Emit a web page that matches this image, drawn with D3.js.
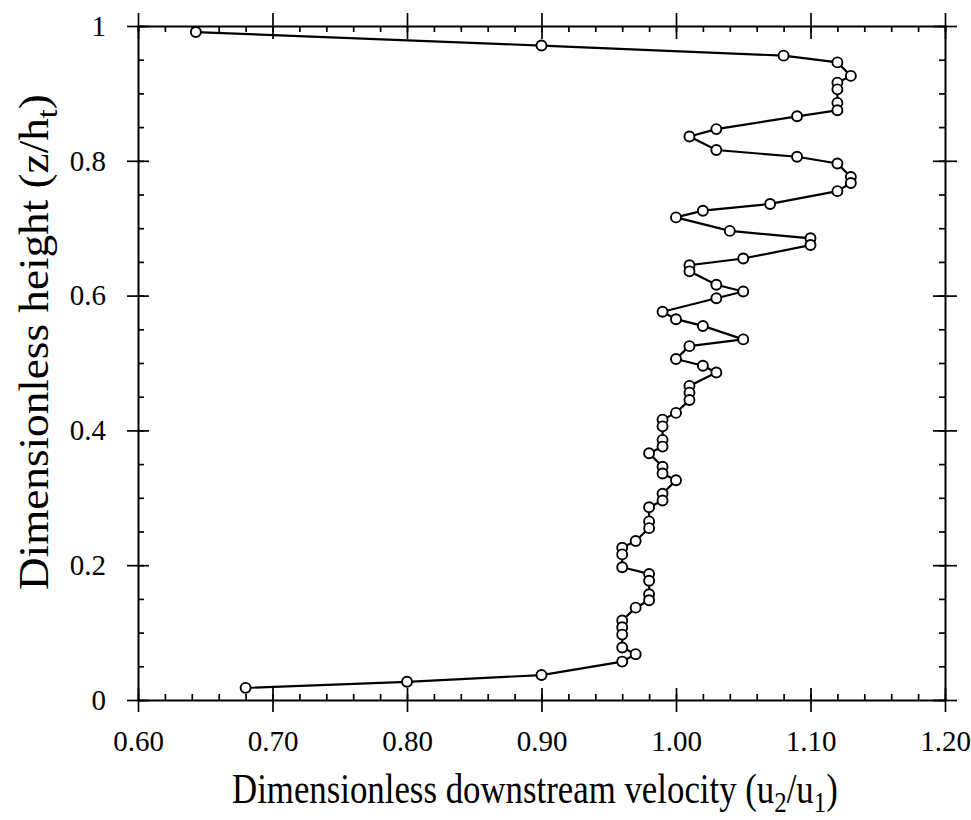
<!DOCTYPE html>
<html>
<head>
<meta charset="utf-8">
<script src="https://cdn.jsdelivr.net/npm/d3@7"></script>
<style>
  body { margin: 0; background: #fff; }
  text { font-family: "Liberation Serif", "DejaVu Serif", serif; fill: #000; }
</style>
</head>
<body>
<script>
// velocity profile, read from the top of the column down
var velocity = [0.643, 0.90, 1.08, 1.12, 1.13, 1.12, 1.12, 1.12, 1.12, 1.09,
  1.03, 1.01, 1.03, 1.09, 1.12, 1.13, 1.13, 1.12, 1.07, 1.02,
  1.00, 1.04, 1.10, 1.10, 1.05, 1.01, 1.01, 1.03, 1.05, 1.03,
  0.99, 1.00, 1.02, 1.05, 1.01, 1.00, 1.02, 1.03, 1.01, 1.01,
  1.01, 1.00, 0.99, 0.99, 0.99, 0.99, 0.98, 0.99, 0.99, 1.00,
  0.99, 0.99, 0.98, 0.98, 0.98, 0.97, 0.96, 0.96, 0.96, 0.98,
  0.98, 0.98, 0.98, 0.97, 0.96, 0.96, 0.96, 0.96, 0.97, 0.96,
  0.90, 0.80, 0.68];

var heightZ = [0.991, 0.971, 0.956, 0.946, 0.926, 0.916, 0.906, 0.886, 0.875, 0.866,
  0.847, 0.836, 0.816, 0.806, 0.796, 0.776, 0.767, 0.755, 0.736, 0.726,
  0.716, 0.696, 0.685, 0.675, 0.655, 0.645, 0.636, 0.616, 0.606, 0.596,
  0.576, 0.565, 0.555, 0.535, 0.525, 0.506, 0.496, 0.486, 0.466, 0.456,
  0.445, 0.426, 0.416, 0.406, 0.386, 0.376, 0.366, 0.346, 0.336, 0.326,
  0.306, 0.296, 0.286, 0.265, 0.255, 0.236, 0.226, 0.216, 0.197, 0.187,
  0.177, 0.157, 0.148, 0.137, 0.118, 0.108, 0.097, 0.078, 0.068, 0.057,
  0.037, 0.027, 0.018];

var xTicks = [0.60, 0.70, 0.80, 0.90, 1.00, 1.10, 1.20];
var xTickLabels = ["0.60", "0.70", "0.80", "0.90", "1.00", "1.10", "1.20"];
var yTicks = [0, 0.2, 0.4, 0.6, 0.8, 1];
var yTickLabels = ["0", "0.2", "0.4", "0.6", "0.8", "1"];
var xMinor = d3.range(0, 31).map(function (i) { return 0.6 + i * 0.02; });
var yMinor = d3.range(0, 21).map(function (i) { return i * 0.05; });

var svgWidth = 971;
var svgHeight = 820;

var svg = d3.select("body")
  .append("svg")
  .attr("width", svgWidth)
  .attr("height", svgHeight);

var x = d3.scaleLinear().domain([0.6, 1.2]).range([138, 945]);
var y = d3.scaleLinear().domain([0, 1]).range([700, 26]);

var points = velocity.map(function (v, i) { return { v: v, z: heightZ[i] }; });

function styleAxis(g, width) {
  g.select(".domain").attr("stroke", "#000").attr("stroke-width", width);
  g.selectAll(".tick line").attr("stroke", "#000").attr("stroke-width", 1.7);
  g.selectAll(".tick text")
    .style("font-family", "'Liberation Serif', serif")
    .style("font-size", "29px")
    .attr("fill", "#000");
}

function noLabel() { return ""; }
function dropDomain(g) { g.select(".domain").remove(); }

// bottom axis: labels + outward major ticks
svg.append("g")
  .attr("transform", "translate(0," + y(0) + ")")
  .call(d3.axisBottom(x).tickValues(xTicks).tickSize(12).tickSizeOuter(0).tickPadding(18)
    .tickFormat(function (d, i) { return xTickLabels[i]; }))
  .call(styleAxis, 2.2);

// bottom axis: inward major + minor ticks
svg.append("g")
  .attr("transform", "translate(0," + y(0) + ")")
  .call(d3.axisTop(x).tickValues(xTicks).tickSize(12).tickFormat(noLabel))
  .call(styleAxis, 0).call(dropDomain);
svg.append("g")
  .attr("transform", "translate(0," + y(0) + ")")
  .call(d3.axisTop(x).tickValues(xMinor).tickSize(6).tickFormat(noLabel))
  .call(styleAxis, 0).call(dropDomain);

// top axis
svg.append("g")
  .attr("transform", "translate(0," + y(1) + ")")
  .call(d3.axisTop(x).tickValues(xTicks).tickSize(13).tickSizeOuter(0).tickFormat(noLabel))
  .call(styleAxis, 2.2);
svg.append("g")
  .attr("transform", "translate(0," + y(1) + ")")
  .call(d3.axisBottom(x).tickValues(xTicks).tickSize(13).tickFormat(noLabel))
  .call(styleAxis, 0).call(dropDomain);
svg.append("g")
  .attr("transform", "translate(0," + y(1) + ")")
  .call(d3.axisBottom(x).tickValues(xMinor).tickSize(6).tickFormat(noLabel))
  .call(styleAxis, 0).call(dropDomain);

// left axis
svg.append("g")
  .attr("transform", "translate(" + x(0.6) + ",0)")
  .call(d3.axisLeft(y).tickValues(yTicks).tickSize(11).tickSizeOuter(0).tickPadding(21)
    .tickFormat(function (d, i) { return yTickLabels[i]; }))
  .call(styleAxis, 2);
svg.append("g")
  .attr("transform", "translate(" + x(0.6) + ",0)")
  .call(d3.axisRight(y).tickValues(yTicks).tickSize(11).tickFormat(noLabel))
  .call(styleAxis, 0).call(dropDomain);
svg.append("g")
  .attr("transform", "translate(" + x(0.6) + ",0)")
  .call(d3.axisRight(y).tickValues(yMinor).tickSize(6).tickFormat(noLabel))
  .call(styleAxis, 0).call(dropDomain);

// right axis
svg.append("g")
  .attr("transform", "translate(" + x(1.2) + ",0)")
  .call(d3.axisRight(y).tickValues(yTicks).tickSize(12).tickSizeOuter(0).tickFormat(noLabel))
  .call(styleAxis, 2);
svg.append("g")
  .attr("transform", "translate(" + x(1.2) + ",0)")
  .call(d3.axisLeft(y).tickValues(yTicks).tickSize(12).tickFormat(noLabel))
  .call(styleAxis, 0).call(dropDomain);
svg.append("g")
  .attr("transform", "translate(" + x(1.2) + ",0)")
  .call(d3.axisLeft(y).tickValues(yMinor).tickSize(6).tickFormat(noLabel))
  .call(styleAxis, 0).call(dropDomain);

// profile line
var line = d3.line()
  .x(function (d) { return x(d.v); })
  .y(function (d) { return y(d.z); });

svg.append("path")
  .datum(points)
  .attr("d", line)
  .attr("fill", "none")
  .attr("stroke", "#000")
  .attr("stroke-width", 2.2);

svg.selectAll("circle.pt")
  .data(points)
  .enter()
  .append("circle")
  .attr("class", "pt")
  .attr("cx", function (d) { return x(d.v); })
  .attr("cy", function (d) { return y(d.z); })
  .attr("r", 5)
  .attr("fill", "#fff")
  .attr("stroke", "#000")
  .attr("stroke-width", 1.9);

// titles are fitted horizontally to the width they take in the figure
function fitScale(g, target) {
  var w = g.node().getBBox().width;
  return target / w;
}

// X axis title
var xg = svg.append("g");
var xt = xg.append("text").style("font-size", "42px");
xt.append("tspan").text("Dimensionless downstream velocity (u");
xt.append("tspan").attr("dy", 9).style("font-size", "30px").text("2");
xt.append("tspan").attr("dy", -9).text("/u");
xt.append("tspan").attr("dy", 9).style("font-size", "30px").text("1");
xt.append("tspan").attr("dy", -9).text(")");
var sx = fitScale(xg, 606);
xg.attr("transform", "translate(232,803) scale(" + sx + ",1)");

// Y axis title
var yg = svg.append("g");
var yt = yg.append("text").style("font-size", "42px");
yt.append("tspan").text("Dimensionless height (z/h");
yt.append("tspan").attr("dy", 9).style("font-size", "30px").text("t");
yt.append("tspan").attr("dy", -9).text(")");
var sy = fitScale(yg, 496);
yg.attr("transform", "translate(48,590) rotate(-90) scale(" + sy + ",1)");
</script>
</body>
</html>
